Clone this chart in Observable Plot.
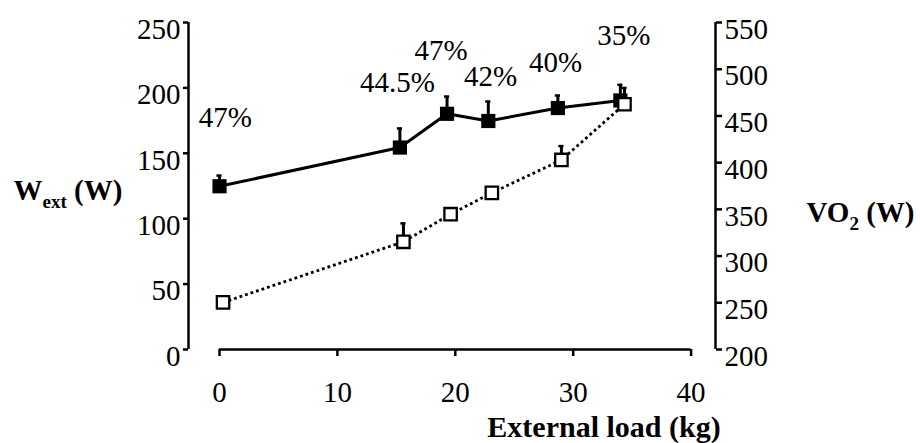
<!DOCTYPE html>
<html><head><meta charset="utf-8">
<script src="https://cdn.jsdelivr.net/npm/d3@7"></script>
<script src="https://cdn.jsdelivr.net/npm/@observablehq/plot@0.6"></script>
<style>
body{margin:0;background:#fff}
html body div#chart svg g text, html body div#chart svg text tspan { font-family: "Liberation Serif", serif !important; }
</style>
</head><body><div id="chart"></div>
<script>
// External load (kg) for the filled (W_ext) series
const externalLoadW = [0, 15.3, 19.3, 22.8, 28.7, 34.0];
// External work W_ext (W), left axis
const wExt = [124.8, 154.4, 180.2, 174.7, 184.6, 190.4];
const wExtErrTop = [133, 169, 193.4, 189.6, 194.2, 202.4];
// External load (kg) for the open (VO2) series
const externalLoadV = [0.3, 15.6, 19.6, 23.1, 29.0, 34.35];
// VO2 (W), right axis
const vo2 = [250.4, 315.3, 344.8, 367.6, 402.9, 462.5];
const vo2ErrTop = [250.4, 335, 344.8, 367.6, 417.7, 480];
// efficiency annotations
const efficiencyLabels = ["47%", "44.5%", "47%", "42%", "40%", "35%"];
const labelLoad = [0.5, 15.1, 18.8, 23.0, 28.5, 34.3];
const labelWext = [177, 203.7, 228.6, 208.7, 219, 240];
// ticks
const xTicks = [0, 10, 20, 30, 40];
const leftTicks = [0, 50, 100, 150, 200, 250];
const rightTicks = [200, 250, 300, 350, 400, 450, 500, 550];

const toLeft = v => (v - 200) * 250 / 350;
const fromLeft = w => w * 350 / 250 + 200;

const wRows = externalLoadW.map((x, i) => ({load: x, val: wExt[i], top: wExtErrTop[i]}));
const vRows = externalLoadV.map((x, i) => ({load: x, val: toLeft(vo2[i]), top: toLeft(vo2ErrTop[i])}));
const lRows = efficiencyLabels.map((t, i) => ({load: labelLoad[i], val: labelWext[i], t}));
const font = "Liberation Serif";
const xDomain = [-2.63, 42.07];
const fs = 29;

const chart = Plot.plot({
  width: 920, height: 443,
  marginLeft: 188, marginRight: 205, marginTop: 22, marginBottom: 94,
  style: {fontFamily: font, fontSize: fs + "px", color: "black", background: "white", overflow: "visible"},
  x: {domain: xDomain, label: null},
  y: {domain: [0, 250], label: null},
  marks: [
    Plot.ruleX([xDomain[0]], {y1: 0, y2: 250, strokeWidth: 2.5}),
    Plot.ruleX([xDomain[1]], {y1: 0, y2: 250, strokeWidth: 2.5}),
    Plot.ruleY([0], {x1: 0, x2: 40, strokeWidth: 2.5}),
    Plot.axisX({ticks: xTicks, tickSize: 7, strokeWidth: 2.5, fill: "none", label: null}),
    Plot.axisX({ticks: xTicks, tickSize: 0, tickPadding: 32, fontSize: fs, fontFamily: font, label: null, tickFormat: d => String(d)}),
    Plot.axisY({anchor: "left", ticks: leftTicks, tickSize: 5, strokeWidth: 2.5, fill: "none", label: null}),
    Plot.axisY({anchor: "left", ticks: leftTicks, tickSize: 0, tickPadding: 8, dy: 7, fontSize: fs, fontFamily: font, label: null, tickFormat: d => String(d)}),
    Plot.axisY({anchor: "right", ticks: rightTicks.map(toLeft), tickSize: 6, strokeWidth: 2.5, fill: "none", label: null}),
    Plot.axisY({anchor: "right", ticks: rightTicks.map(toLeft), tickSize: 0, tickPadding: 9, dy: 7, fontSize: fs, fontFamily: font, label: null,
      tickFormat: d => String(Math.round(fromLeft(d)))}),
    // lines
    Plot.line(vRows, {x: "load", y: "val", stroke: "black", strokeWidth: 2.8, strokeDasharray: "2.8,3", strokeLinecap: "butt"}),
    Plot.line(wRows, {x: "load", y: "val", stroke: "black", strokeWidth: 3}),
    // error bars
    Plot.ruleX(wRows, {x: "load", y1: "val", y2: "top", strokeWidth: 3}),
    Plot.ruleY(wRows, {y: "top", x1: d => d.load - 0.22, x2: d => d.load + 0.22, strokeWidth: 2.5}),
    Plot.ruleX(vRows.filter(d => d.top > d.val), {x: "load", y1: "val", y2: "top", strokeWidth: 3}),
    Plot.ruleY(vRows.filter(d => d.top > d.val), {y: "top", x1: d => d.load - 0.22, x2: d => d.load + 0.22, strokeWidth: 2.5}),
    // markers
    Plot.dot(wRows, {x: "load", y: "val", symbol: "square", r: 8, fill: "black", stroke: "none"}),
    Plot.dot(vRows, {x: "load", y: "val", symbol: "square", r: 7, fill: "white", stroke: "black", strokeWidth: 2.3}),
    // annotations
    Plot.text(lRows, {x: "load", y: "val", text: "t", fontSize: fs, fontFamily: font, fill: "black"}),
    // axis titles
    Plot.text(["Wext (W)"], {frameAnchor: "left", text: d => d, textAnchor: "start", dx: -175, dy: 5, fontSize: fs, fontFamily: font, fontWeight: "bold"}),
    Plot.text(["VO2 (W)"], {frameAnchor: "right", text: d => d, textAnchor: "start", dx: 91, dy: 27, fontSize: fs, fontFamily: font, fontWeight: "bold"}),
    Plot.text(["External load (kg)"], {frameAnchor: "bottom", text: d => d, textAnchor: "middle", dx: 152, dy: 87, fontSize: 30, fontFamily: font, fontWeight: "bold"})
  ]
});

// subscripts for axis titles
d3.select(chart).selectAll("text").each(function() {
  const t = this.textContent;
  const sel = d3.select(this);
  if (t === "Wext (W)") {
    sel.text(null);
    sel.append("tspan").text("W");
    sel.append("tspan").attr("font-size", 19).attr("dy", 8).text("ext");
    sel.append("tspan").attr("dy", -8).text(" (W)");
  } else if (t === "VO2 (W)") {
    sel.text(null);
    sel.append("tspan").text("VO");
    sel.append("tspan").attr("font-size", 19).attr("dy", 8).text("2");
    sel.append("tspan").attr("dy", -8).text(" (W)");
  }
});

function applySerif(svg) {
  const s = d3.select(svg);
  s.attr("font-family", "Liberation Serif").style("font-family", "'Liberation Serif', serif", "important");
  s.selectAll("g, text, tspan").attr("font-family", "Liberation Serif")
    .style("font-family", "'Liberation Serif', serif", "important");
}
// an internal stylesheet travels with the svg
d3.select(chart).insert("style", ":first-child")
  .text("text, tspan { font-family: 'Liberation Serif', serif !important; }");
applySerif(chart);
document.getElementById("chart").appendChild(chart);
requestAnimationFrame(() => document.querySelectorAll("svg").forEach(applySerif));
setTimeout(() => document.querySelectorAll("svg").forEach(applySerif), 0);
</script>
</body></html>
